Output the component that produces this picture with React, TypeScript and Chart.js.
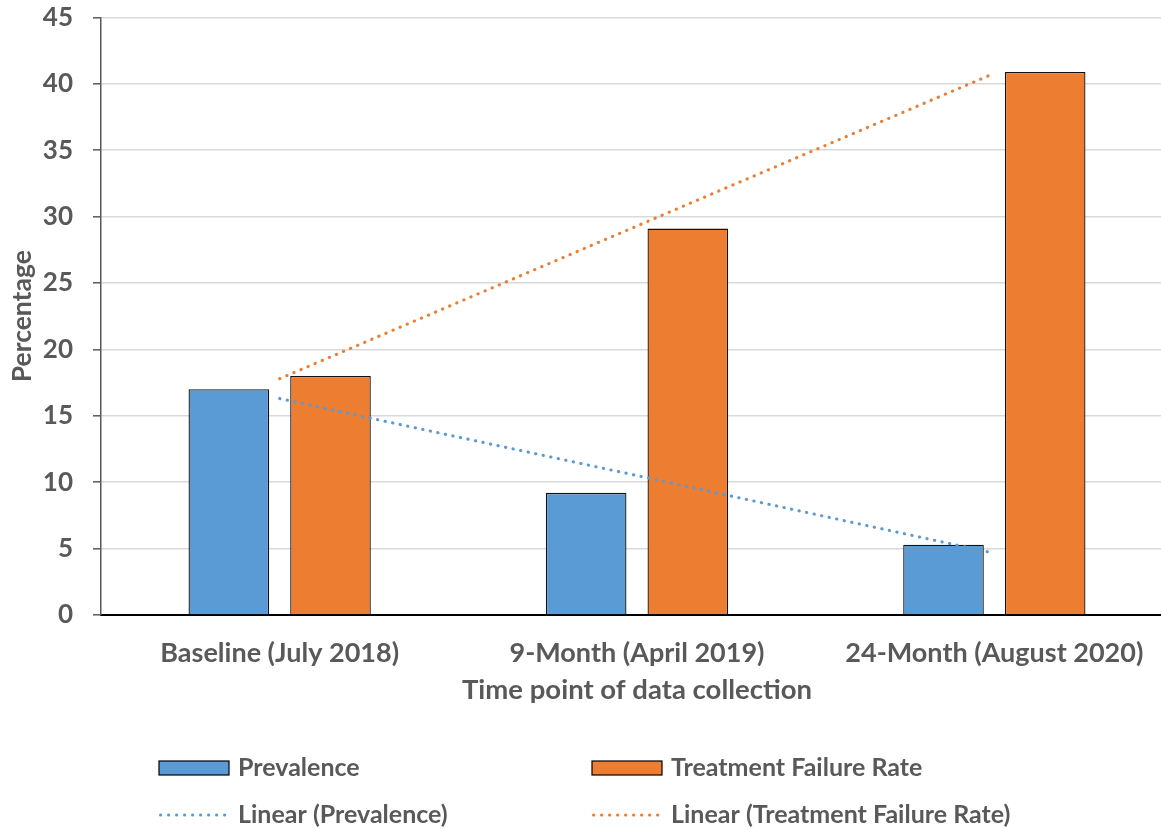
import React, { useEffect, useRef } from "react";
import { Chart, registerables } from "chart.js";

Chart.register(...registerables);

const categories = ["Baseline (July 2018)", "9-Month (April 2019)", "24-Month (August 2020)"];
const prevalence = [17, 9.2, 5.3];
const treatmentFailure = [18, 29.1, 40.9];
const linearPrevalence = [16.3, 10.5, 4.65];
const linearTreatmentFailure = [17.8, 29.3, 40.8];
const yTicks = [0, 5, 10, 15, 20, 25, 30, 35, 40, 45];
const seriesLabels = [
  "Prevalence",
  "Treatment Failure Rate",
  "Linear (Prevalence)",
  "Linear (Treatment Failure Rate)",
];
const xTitle = "Time point of data collection";
const yTitle = "Percentage";

const BLUE = "#5B9BD5";
const ORANGE = "#ED7D31";
const TEXT = "#595959";
const FONT_FAMILY = "Lato, 'Open Sans', sans-serif";
const tickFontX = { family: FONT_FAMILY, size: 27, weight: "bold" as const };
const tickFontY = { family: FONT_FAMILY, size: 26, weight: "bold" as const };
const titleFontX = { family: FONT_FAMILY, size: 27.5, weight: "bold" as const };
const titleFontY = { family: FONT_FAMILY, size: 26.5, weight: "bold" as const };

const gridLegend = {
  id: "gridLegend",
  afterDraw(chart: any) {
    const ctx = chart.ctx as CanvasRenderingContext2D;
    const cols = [159, 592];
    const rows = [768, 815];
    chart.data.datasets.forEach((ds: any, i: number) => {
      const x = cols[i % 2];
      const y = rows[Math.floor(i / 2)];
      ctx.save();
      if (ds.type === "line") {
        ctx.strokeStyle = ds.borderColor;
        ctx.lineWidth = 3;
        ctx.lineCap = "round";
        ctx.setLineDash([0.3, 7.7]);
        ctx.beginPath();
        ctx.moveTo(x + 1.5, y);
        ctx.lineTo(x + 70, y);
        ctx.stroke();
      } else {
        ctx.fillStyle = ds.backgroundColor;
        ctx.fillRect(x, y - 7, 70, 14);
        ctx.strokeStyle = "#000";
        ctx.lineWidth = 1.2;
        ctx.strokeRect(x, y - 7, 70, 14);
      }
      ctx.setLineDash([]);
      ctx.fillStyle = TEXT;
      ctx.font = `bold 25px ${FONT_FAMILY}`;
      ctx.textBaseline = "middle";
      ctx.textAlign = "left";
      ctx.fillText(ds.label, x + 79, y);
      ctx.restore();
    });
  },
};

export default function App() {
  const canvasRef = useRef<HTMLCanvasElement | null>(null);

  useEffect(() => {
    if (!canvasRef.current) return;
    const chart = new Chart(canvasRef.current, {
      type: "bar",
      data: {
        labels: categories,
        datasets: [
          {
            type: "bar",
            label: seriesLabels[0],
            data: prevalence,
            backgroundColor: BLUE,
            borderColor: "#111",
            borderWidth: 1.3,
            barPercentage: 0.793,
            categoryPercentage: 0.569,
            order: 2,
          },
          {
            type: "bar",
            label: seriesLabels[1],
            data: treatmentFailure,
            backgroundColor: ORANGE,
            borderColor: "#111",
            borderWidth: 1.3,
            barPercentage: 0.793,
            categoryPercentage: 0.569,
            order: 2,
          },
          {
            type: "line",
            label: seriesLabels[2],
            data: linearPrevalence,
            borderColor: BLUE,
            backgroundColor: BLUE,
            borderWidth: 3.1,
            borderDash: [0.3, 7.4],
            borderCapStyle: "round",
            pointRadius: 0,
            fill: false,
            tension: 0,
            order: 0,
          },
          {
            type: "line",
            label: seriesLabels[3],
            data: linearTreatmentFailure,
            borderColor: ORANGE,
            backgroundColor: ORANGE,
            borderWidth: 3.1,
            borderDash: [0.3, 7.4],
            borderCapStyle: "round",
            pointRadius: 0,
            fill: false,
            tension: 0,
            order: 0,
          },
        ] as any,
      },
      options: {
        animation: false,
        responsive: false,
        devicePixelRatio: 1,
        layout: { padding: { top: 17.5, bottom: 122.5, left: 0, right: 0 } },
        plugins: {
          legend: { display: false },
          tooltip: { enabled: false },
        },
        scales: {
          x: {
            grid: { display: false, drawTicks: false },
            border: { color: "#000", width: 2 },
            ticks: { padding: 22, color: TEXT, font: tickFontX, maxRotation: 0, autoSkip: false },
            title: {
              display: true,
              text: xTitle,
              color: TEXT,
              font: titleFontX,
              padding: { top: 0, bottom: 0 },
            },
            afterFit: (s: any) => {
              s.height = 91.5;
            },
          },
          y: {
            min: 0,
            max: 45,
            afterBuildTicks: (s: any) => {
              s.ticks = yTicks.map((v) => ({ value: v }));
            },
            ticks: { padding: 20, color: TEXT, font: tickFontY },
            grid: {
              color: "#d9d9d9",
              lineWidth: 1.6,
              tickLength: 8,
              tickColor: "#595959",
              tickWidth: 1.5,
            },
            border: { color: "#595959", width: 1.5 },
            title: {
              display: true,
              text: yTitle,
              color: TEXT,
              font: titleFontY,
              padding: { top: 7, bottom: 0 },
            },
            afterFit: (s: any) => {
              s.width = 101;
              s.paddingTop = 0;
              s.paddingBottom = 0;
            },
          },
        },
      } as any,
      plugins: [gridLegend],
    });
    return () => chart.destroy();
  }, []);

  return (
    <div
      style={{
        position: "fixed",
        left: 0,
        top: 0,
        width: 1161,
        height: 829,
        overflow: "hidden",
        background: "#fff",
      }}
    >
      <canvas ref={canvasRef} width={1173} height={829} style={{ display: "block" }} />
    </div>
  );
}
